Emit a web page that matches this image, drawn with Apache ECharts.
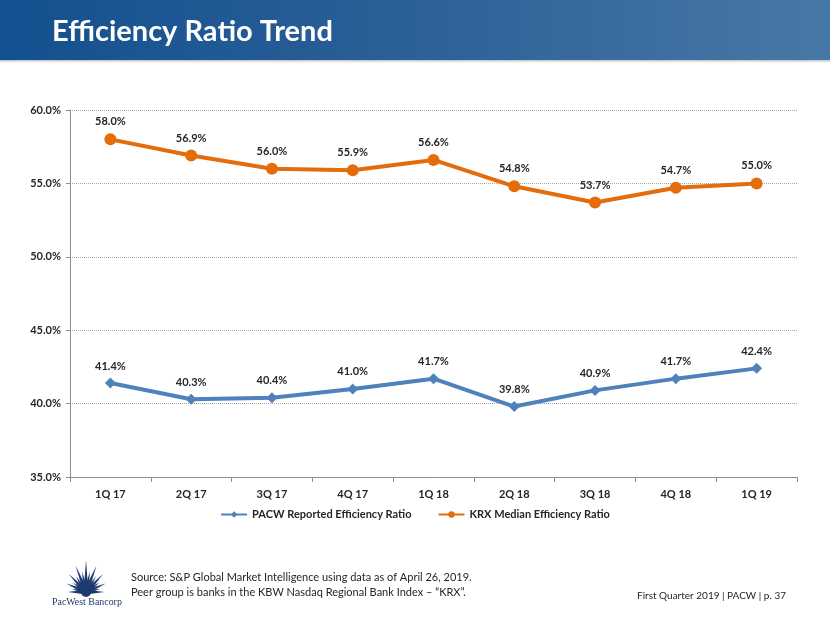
<!DOCTYPE html>
<html><head><meta charset="utf-8">
<script src="https://cdn.jsdelivr.net/npm/echarts@6/dist/echarts.min.js"></script>
<style>html,body{margin:0;padding:0;background:#fff}#c{width:830px;height:623px}</style>
</head><body><div id="c"></div>
<script>
var categories = ['1Q 17','2Q 17','3Q 17','4Q 17','1Q 18','2Q 18','3Q 18','4Q 18','1Q 19'];
var pacwValues = [41.4, 40.3, 40.4, 41.0, 41.7, 39.8, 40.9, 41.7, 42.4];
var krxValues = [58.0, 56.9, 56.0, 55.9, 56.6, 54.8, 53.7, 54.7, 55.0];
var seriesNames = ['PACW Reported Efficiency Ratio', 'KRX Median Efficiency Ratio'];
var yTicks = [35, 40, 45, 50, 55, 60];

var chart = echarts.init(document.getElementById('c'));
var FONT = 'Lato, "Open Sans", sans-serif';
var rays = [];
var cx = 86, cy = 592;
for (var i = 0; i <= 16; i++) {
  var a = Math.PI * (i / 16);
  var mid = Math.abs(i - 8);
  var len = (i % 2 === 0) ? (32 - mid * 1.6) : (22 - mid * 1.0);
  var ex = cx - Math.cos(a) * len * 0.95, ey = cy - Math.sin(a) * len;
  var px = Math.sin(a) * 2.4, py = -Math.cos(a) * 2.4;
  rays.push({type: 'polygon', shape: {points: [[cx + px, cy + py], [ex, ey], [cx - px, cy - py]]}, style: {fill: '#1f3a6e'}});
}
rays.push({type: 'circle', shape: {cx: cx, cy: cy, r: 5}, style: {fill: '#1f3a6e'}});

function pct(p) { return p.value.toFixed(1) + '%'; }

chart.setOption({
  animation: false,
  graphic: [
    {type: 'rect', shape: {x: 0, y: 58, width: 830, height: 5}, style: {fill: new echarts.graphic.LinearGradient(0,0,0,1,[{offset:0,color:'#9a9a9a'},{offset:1,color:'#ffffff'}])}},
    {type: 'rect', shape: {x: 0, y: 0, width: 830, height: 60}, style: {fill: new echarts.graphic.LinearGradient(0,0,1,0,[{offset:0,color:'#13508f'},{offset:0.5,color:'#2c6098'},{offset:1,color:'#4878a5'}])}},
    {type: 'text', left: 52, top: 17, style: {text: 'Efficiency Ratio Trend', fill: '#ffffff', font: 'bold 29px ' + FONT}},
    {type: 'group', children: rays},
    {type: 'text', left: 52, top: 597, scaleX: 0.9, style: {text: 'PacWest Bancorp', fill: '#1f3a6e', font: '11px "Liberation Serif", serif'}},
    {type: 'text', left: 131, top: 570, style: {text: 'Source: S&P Global Market Intelligence using data as of April 26, 2019.\nPeer group is banks in the KBW Nasdaq Regional Bank Index – “KRX”.', fill: '#262626', font: '11px ' + FONT, lineHeight: 15}},
    {type: 'text', left: 637, top: 591, style: {text: 'First Quarter 2019 | PACW | p. 37', fill: '#262626', font: '10px ' + FONT}}
  ],
  grid: {left: 70, right: 33, top: 110, bottom: 146, containLabel: false},
  legend: {
    bottom: 98, left: 'center', itemWidth: 26, itemHeight: 8, itemGap: 26,
    textStyle: {fontFamily: FONT, fontWeight: 'bold', fontSize: 11, color: '#262626'},
    data: seriesNames
  },
  xAxis: {
    type: 'category', data: categories, boundaryGap: true,
    axisLine: {lineStyle: {color: '#8c8c8c'}},
    axisTick: {show: true, length: 5, lineStyle: {color: '#8c8c8c'}},
    axisLabel: {margin: 12, fontFamily: FONT, fontWeight: 'bold', fontSize: 11, color: '#262626'}
  },
  yAxis: {
    type: 'value', min: yTicks[0], max: yTicks[yTicks.length - 1], interval: 5,
    axisLine: {show: true, lineStyle: {color: '#8c8c8c'}},
    axisTick: {show: true, length: 4, lineStyle: {color: '#8c8c8c'}},
    splitLine: {lineStyle: {color: '#a6a6a6', type: 'dotted'}},
    axisLabel: {margin: 9, formatter: function (v) { return v.toFixed(1) + '%'; }, fontFamily: FONT, fontWeight: 'bold', fontSize: 11, color: '#262626'}
  },
  series: [
    {name: seriesNames[0], type: 'line', data: pacwValues, symbol: 'diamond', symbolSize: 11,
     lineStyle: {width: 4, color: '#4f81bd'}, itemStyle: {color: '#4f81bd'},
     label: {show: true, position: 'top', distance: 6, formatter: pct, fontFamily: FONT, fontWeight: 'bold', fontSize: 11, color: '#262626'}},
    {name: seriesNames[1], type: 'line', data: krxValues, symbol: 'circle', symbolSize: 12,
     lineStyle: {width: 4, color: '#e46c0a'}, itemStyle: {color: '#e46c0a'},
     label: {show: true, position: 'top', distance: 6, formatter: pct, fontFamily: FONT, fontWeight: 'bold', fontSize: 11, color: '#262626'}}
  ]
});
</script></body></html>
